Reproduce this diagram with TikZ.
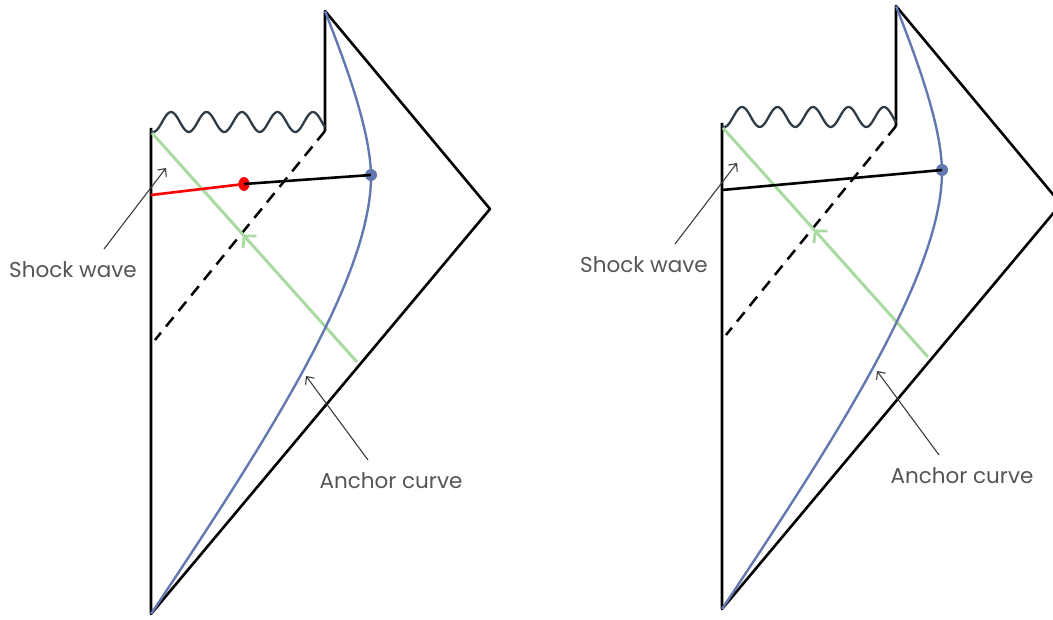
\documentclass[tikz,border=0pt]{standalone}
\usepackage{fontspec}
\setmainfont{Poppins}
\usetikzlibrary{arrows.meta,decorations.markings,shapes.geometric}
\definecolor{wig}{HTML}{2E3C48}
\definecolor{anch}{HTML}{6378B0}
\definecolor{lgreen}{HTML}{A9DAA2}
\definecolor{lab}{HTML}{555555}
\tikzset{
  edgeln/.style={black,line width=2.6pt,line join=round},
  wiggle/.style={wig,line width=2.3pt},
  dashln/.style={black,line width=2.5pt,dash pattern=on 12pt off 8pt},
  anccurve/.style={anch,line width=2.4pt},
  ray/.style={lgreen,line width=3pt,postaction={decorate},
    decoration={markings,mark=at position 0.556 with {\arrow{Straight Barb[length=8pt,width=18pt,line width=2.8pt]}}}},
  pointer/.style={draw=lab!70!black,line width=1.1pt,-{Straight Barb[length=6pt,width=11pt]}},
  lbl/.style={text=lab,font=\fontsize{21.5}{24}\selectfont,inner sep=0pt},
  dotb/.style={circle,fill=anch,inner sep=0pt,minimum size=12pt},
  dotr/.style={ellipse,fill=red,inner sep=0pt,minimum width=11pt,minimum height=14pt},
}
\begin{document}
\begin{tikzpicture}[x=1pt,y=-1pt]
\useasboundingbox (0,0) rectangle (1053,620);
\clip (0,0) rectangle (1053,620);
\foreach \p/\sx/\sy/\rr in {L/0/0/1,R/571/-5/0}{
\begin{scope}[shift={(\sx,\sy)}]
  \coordinate (\p-bot) at (151,614);
  \coordinate (\p-tl) at (151,128);
  \coordinate (\p-top) at (325,11);
  \coordinate (\p-sing) at (325,131);
  \coordinate (\p-right) at (490,209);
  \coordinate (\p-dend) at (155,340);
  \coordinate (\p-gs) at (357,362);
  \coordinate (\p-ge) at (152,133);
  \coordinate (\p-hl) at (151,195);
  \coordinate (\p-swt) at (104,249);
  \coordinate (\p-swh) at (166,168);
  \coordinate (\p-act) at (368,460);
  \coordinate (\p-ach) at (306,376);
  \draw[edgeln] (\p-tl) -- (\p-bot) -- (\p-right) -- (\p-top) -- (\p-sing);
  \draw[wiggle] plot[domain=151:325,samples=120] (\x,{122-10*sin((\x-151)*10.1408-113)});
  \draw[dashln] (\p-sing) -- (\p-dend);
  \draw[ray] (\p-gs) -- (\p-ge);
  \draw[anccurve] (\p-bot) .. controls (260,450) and (372,280) .. (371,175)
     .. controls (370,125) and (340,50) .. (\p-top);
  \node[dotb] (\p-bd) at (371,175) {};
  \ifnum\rr=1
    \node[dotr] (\p-rd) at (244,184) {};
    \draw[red,line width=2.6pt] (\p-hl) -- (\p-rd.center);
    \draw[edgeln] (\p-rd.center) -- (\p-bd.center);
  \else
    \draw[edgeln] (\p-hl) -- (\p-bd.center);
  \fi
  \node[lbl] (\p-sw) at (73,270) {Shock wave};
  \node[lbl] (\p-ac) at (391,481) {Anchor curve};
  \draw[pointer] (\p-swt) -- (\p-swh);
  \draw[pointer] (\p-act) -- (\p-ach);
\end{scope}
}
\end{tikzpicture}
\end{document}
